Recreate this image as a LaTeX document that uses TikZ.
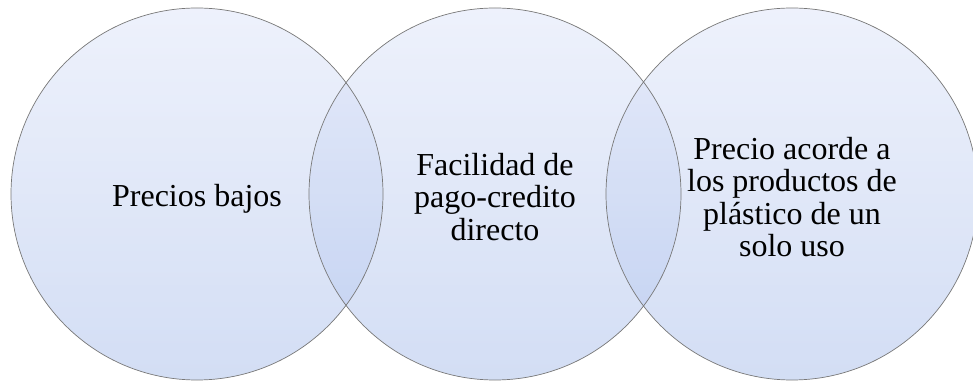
\documentclass[tikz,border=0pt]{standalone}
\usepackage{fontspec}
\setmainfont{Liberation Serif}
\definecolor{ctop}{RGB}{227,233,250}
\definecolor{cbot}{RGB}{182,200,238}
\definecolor{cedge}{RGB}{120,120,120}
\tikzset{
  disc/.style={circle, minimum size=372pt, inner sep=0pt, draw=none,
    top color=ctop, bottom color=cbot, fill opacity=0.6},
  rim/.style={circle, minimum size=372pt, inner sep=0pt, draw=cedge, line width=0.7pt},
  txt/.style={align=center, font=\fontsize{32}{32.5}\selectfont, text=black}
}
\begin{document}
\begin{tikzpicture}[x=1pt,y=1pt]
\useasboundingbox (0,0) rectangle (973,385);
\clip (0,0) rectangle (973,385);
\fill[white] (0,0) rectangle (973,385);
\node[disc] (c1) at (197,191) {};
\node[disc] (c2) at (495,191) {};
\node[disc] (c3) at (792,191) {};
\node[rim] at (c1) {};
\node[rim] at (c2) {};
\node[rim] at (c3) {};
\node[txt] (t1) at ([yshift=-5pt]c1.center) {Precios bajos};
\node[txt] (t2) at ([yshift=-3pt]c2.center) {Facilidad de\\pago-credito\\directo};
\node[txt] (t3) at ([yshift=-3pt]c3.center) {Precio acorde a\\los productos de\\plástico de un\\solo uso};
\end{tikzpicture}
\end{document}
